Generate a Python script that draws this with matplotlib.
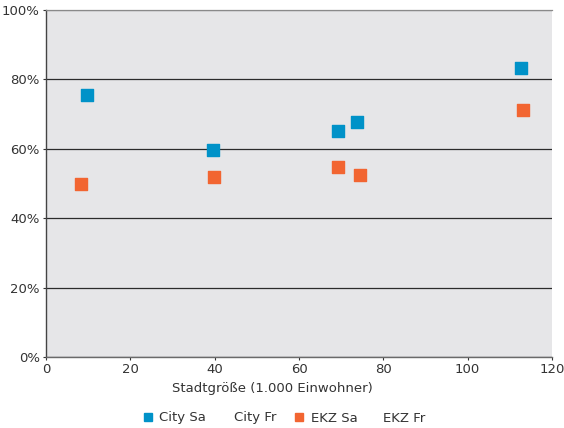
import matplotlib
matplotlib.use("Agg")
import matplotlib.pyplot as plt
from matplotlib.ticker import FuncFormatter
from matplotlib.lines import Line2D

city_sa_x = [9.7, 39.7, 69.2, 73.7, 112.6]
city_sa_y = [75.5, 59.7, 65.1, 67.7, 83.3]
ekz_sa_x = [8.3, 39.9, 69.2, 74.4, 113.1]
ekz_sa_y = [49.9, 51.9, 54.8, 52.4, 71.2]
series_names = ["City Sa", "City Fr", "EKZ Sa", "EKZ Fr"]
x_label = "Stadtgröße (1.000 Einwohner)"

BLUE = '#0092c8'
ORANGE = '#f26531'
TXT = '#333333'

plt.rcParams['font.family'] = ['DejaVu Sans']
fig = plt.figure(figsize=(5.64, 4.28), dpi=100)
ax = fig.add_axes([46/564, 1-357/428, 506/564, 347/428])
ax.set_facecolor('#e6e6e8')
ax.set_xlim(0, 120)
ax.set_ylim(0, 100)
ax.set_xticks(range(0, 121, 20))
ax.set_yticks(range(0, 101, 20))
ax.yaxis.set_major_formatter(FuncFormatter(lambda v, p: f"{int(v)}%"))
ax.grid(axis='y', color='#2b2b2b', linewidth=0.9)
ax.set_axisbelow(True)
gl = ax.get_ygridlines()
gl[-1].set_color('#8a8a8a')
for s in ['right']:
    ax.spines[s].set_visible(False)
ax.spines['top'].set_color('#8a8a8a')
ax.spines['top'].set_linewidth(0.9)
ax.spines['left'].set_color('#444444')
ax.spines['bottom'].set_color('#6a6a6a')
for s in ['left', 'bottom']:
    ax.spines[s].set_linewidth(1.0)
ax.tick_params(axis='both', labelsize=9.5, colors=TXT, length=2, width=0.8, pad=2.5)

ax.scatter(city_sa_x, city_sa_y, marker='s', s=82, color=BLUE, zorder=3)
ax.scatter(ekz_sa_x, ekz_sa_y, marker='s', s=82, color=ORANGE, zorder=3)

ax.set_xlabel(x_label, fontsize=9.5, color=TXT)
ax.xaxis.set_label_coords((272-46)/506, (357-382)/347)

handles = [
    Line2D([], [], marker='s', linestyle='none', color=BLUE, markersize=6),
    Line2D([], [], linestyle='none'),
    Line2D([], [], marker='s', linestyle='none', color=ORANGE, markersize=6),
    Line2D([], [], linestyle='none'),
]
starts = [142.7, 217.5, 294.2, 366.5]
for h, name, xs in zip(handles, series_names, starts):
    leg = fig.legend([h], [name], loc='center left', bbox_to_anchor=(xs/564, 1-418/428),
                     frameon=False, fontsize=9.5, borderpad=0, borderaxespad=0,
                     handlelength=0.8, handletextpad=0.45)
    for t in leg.get_texts():
        t.set_color(TXT)
fig.savefig('out.png', dpi=100)
